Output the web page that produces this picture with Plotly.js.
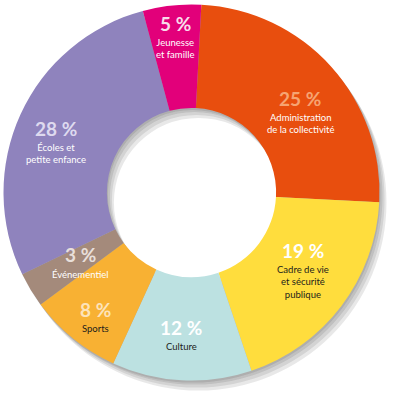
<!DOCTYPE html>
<html>
<head>
<meta charset="utf-8">
<script src="https://cdn.plot.ly/plotly-3.0.1.min.js"></script>
<style>
html,body{margin:0;padding:0;background:#fff;}
#chart{width:397px;height:400px;}
</style>
</head>
<body>
<div id="chart"></div>
<script>
// ---- data ----
var categories = ["Administration de la collectivité", "Cadre de vie et sécurité publique", "Culture", "Sports", "Événementiel", "Écoles et petite enfance", "Jeunesse et famille"];
var values = [25, 19, 12, 8, 3, 28, 5];
var valueLabels = ["25 %", "19 %", "12 %", "8 %", "3 %", "28 %", "5 %"];
var labelLines = [
  ["Administration", "de la collectivité"],
  ["Cadre de vie", "et sécurité", "publique"],
  ["Culture"],
  ["Sports"],
  ["Événementiel"],
  ["Écoles et", "petite enfance"],
  ["Jeunesse", "et famille"]
];

// ---- styles ----
var sliceColors = ["#E84E0E", "#FFDD3D", "#BCE1E1", "#F8B133", "#A48A7B", "#8F83BD", "#E2007A"];
var numberColors = ["#F6A472", "#FFFFFF", "#FFFFFF", "#FDE3BA", "#E8DFDA", "#DEDAEF", "#F8DCEB"];
var lineColors = ["#FFFFFF", "#1D1D1B", "#1D1D1B", "#1D1D1B", "#FFFFFF", "#FFFFFF", "#FFFFFF"];
// label anchor positions (pixels in the 397x400 frame)
var labelPos = [[300, 98], [303, 250], [181, 327], [95, 309], [80, 255], [56, 128], [175, 23]];

var W = 397, H = 400;
var cx = 191.5, cy = 192.5, R = 188;
function dom(dx, dy) {
  return {
    x: [(cx - R + dx) / W, (cx + R + dx) / W],
    y: [1 - (cy + R + dy) / H, 1 - (cy - R + dy) / H]
  };
}

var traces = [];
var shadowOffsets = [[1, 2], [3, 4], [5, 7], [7, 10]];
shadowOffsets.forEach(function (o) {
  traces.push({
    type: "pie",
    values: [1],
    labels: ["shadow"],
    hole: 0.45,
    sort: false,
    textinfo: "none",
    hoverinfo: "skip",
    showlegend: false,
    marker: {colors: ["rgba(0,0,0,0.09)"], line: {width: 0}},
    domain: dom(o[0], o[1])
  });
});

traces.push({
  type: "pie",
  labels: categories,
  values: values,
  hole: 0.45,
  sort: false,
  direction: "clockwise",
  rotation: 3,
  textinfo: "none",
  hoverinfo: "label+percent",
  showlegend: false,
  marker: {colors: sliceColors, line: {width: 0}},
  domain: dom(0, 0)
});

var font = "Lato, 'Noto Sans', sans-serif";
var fs = 9.5, spacing = 1.3 * fs;
var annotations = [];
categories.forEach(function (c, i) {
  var px = labelPos[i][0], py = labelPos[i][1];
  annotations.push({
    xref: "paper", yref: "paper", x: px / W, y: 1 - py / H,
    xanchor: "center", yanchor: "middle", showarrow: false,
    text: "<b>" + valueLabels[i] + "</b>",
    font: {family: font, size: 19, color: numberColors[i]}
  });
  var n = labelLines[i].length;
  annotations.push({
    xref: "paper", yref: "paper", x: px / W,
    y: 1 - (py + 19.5 + (n - 1) * spacing / 2) / H,
    xanchor: "center", yanchor: "middle", showarrow: false,
    align: "center",
    text: labelLines[i].join("<br>"),
    font: {family: font, size: fs, color: lineColors[i]}
  });
});

var layout = {
  width: W, height: H,
  margin: {l: 0, r: 0, t: 0, b: 0},
  paper_bgcolor: "#ffffff",
  showlegend: false,
  annotations: annotations
};

Plotly.newPlot("chart", traces, layout, {staticPlot: true, displayModeBar: false});
</script>
</body>
</html>
